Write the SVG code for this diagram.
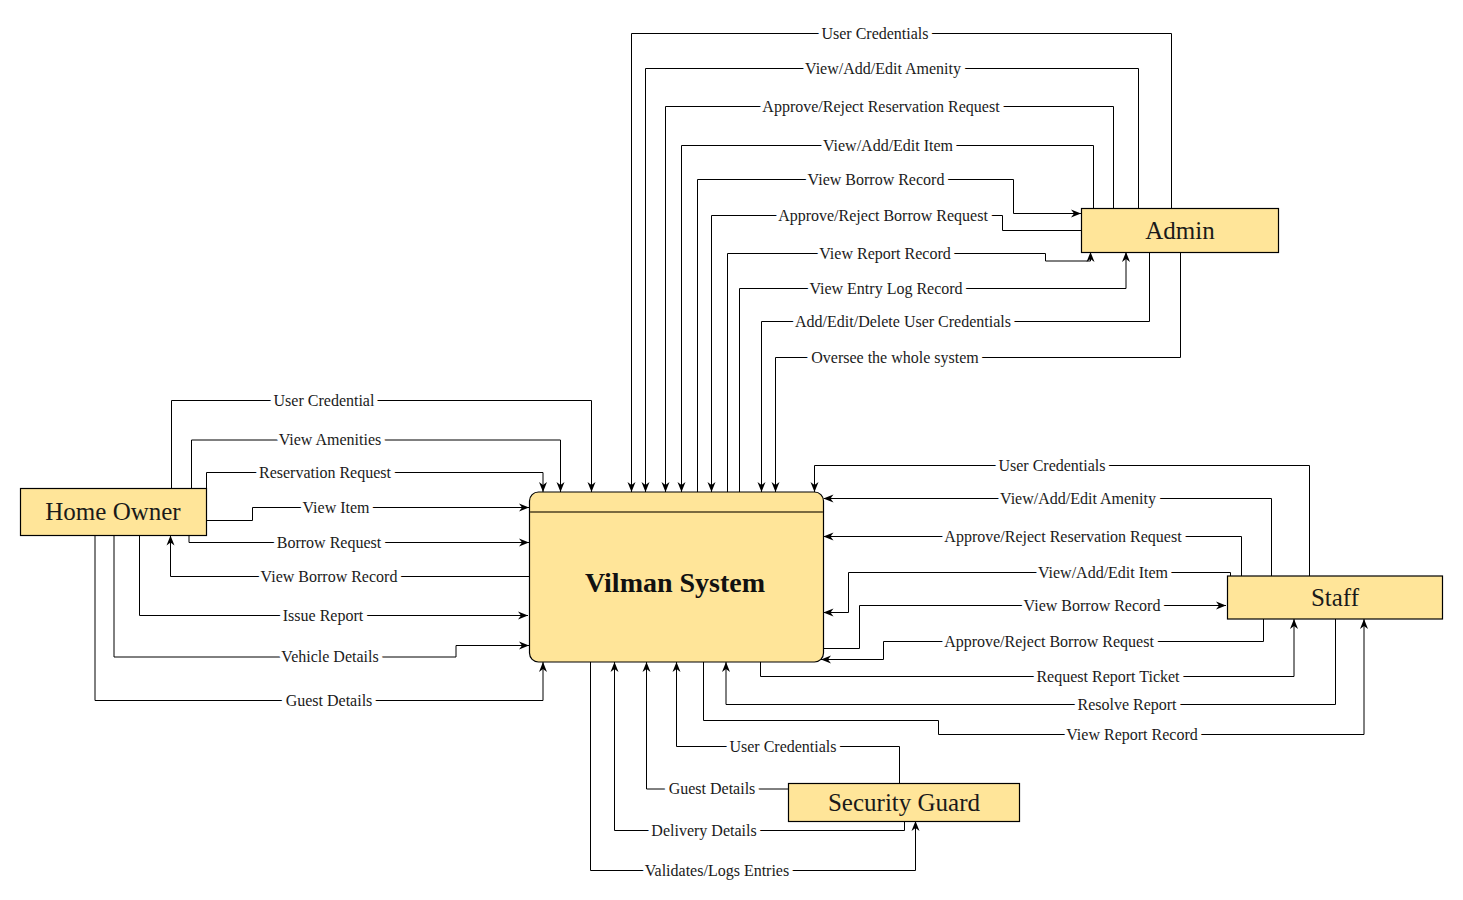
<svg xmlns="http://www.w3.org/2000/svg" width="1463" height="900" viewBox="0 0 1463 900">
<style>
.c{fill:none;stroke:#000;stroke-width:1;marker-end:url(#ah)}
.l{font-family:"Liberation Serif","Times New Roman",serif;font-size:16px;fill:#1a1a1a;text-anchor:middle;stroke:#fff;stroke-width:9;stroke-linejoin:round;paint-order:stroke}
.box{fill:#FFE599;stroke:#000;stroke-width:1.2}
.t{font-family:"Liberation Serif","Times New Roman",serif;font-size:25px;fill:#1a1a1a;text-anchor:middle}
.tb{font-family:"Liberation Serif","Times New Roman",serif;font-size:28px;font-weight:bold;fill:#111;text-anchor:middle}
</style>
<defs>
<marker id="ah" viewBox="0 0 10 10" refX="10" refY="5" markerWidth="10" markerHeight="10" markerUnits="userSpaceOnUse" orient="auto">
<path d="M0,1 L10,5 L0,9 L3,5 z" fill="#000"/>
</marker>
</defs>
<rect width="1463" height="900" fill="#fff"/>
<g id="connectors">
<path class="c" d="M1171.5,208 V33.5 H631.5 V492"/>
<path class="c" d="M1138.5,208 V68.5 H645.5 V492"/>
<path class="c" d="M1113.5,208 V106.5 H665.5 V492"/>
<path class="c" d="M1093.5,208 V145.5 H681.5 V492"/>
<path class="c" d="M697.5,492 V179.5 H1013.5 V213.5 H1081"/>
<path class="c" d="M1081,230.5 H1002.5 V215.5 H711.5 V492"/>
<path class="c" d="M727.5,492 V253.5 H1045.5 V261 H1090.5 V252"/>
<path class="c" d="M739.5,492 V288.5 H1126 V252"/>
<path class="c" d="M1149.5,252 V321.5 H761.5 V492"/>
<path class="c" d="M1180.5,252 V357.5 H775.5 V492"/>
<path class="c" d="M171.5,488.5 V400.5 H591.5 V492"/>
<path class="c" d="M191.5,488.5 V440 H560.5 V492"/>
<path class="c" d="M206.5,500 V472.5 H543 V492"/>
<path class="c" d="M206.5,520.5 H252.5 V507.5 H529"/>
<path class="c" d="M189,535.5 V542.5 H529"/>
<path class="c" d="M529,576.5 H170.5 V535.5"/>
<path class="c" d="M139.5,535.5 V615.5 H528"/>
<path class="c" d="M114,535.5 V657 H456 V645.5 H529"/>
<path class="c" d="M95,535.5 V700.5 H543 V662"/>
<path class="c" d="M1309.5,576 V465.5 H814.5 V492"/>
<path class="c" d="M1271.5,576 V498.5 H823.5"/>
<path class="c" d="M1241.5,576 V536.5 H823.5"/>
<path class="c" d="M1230.5,576 V572.5 H848.5 V612.5 H823.5"/>
<path class="c" d="M823.5,648.5 H859.5 V605.5 H1226"/>
<path class="c" d="M1263.5,619 V641.5 H883.5 V659.5 H821"/>
<path class="c" d="M760.5,662 V676.5 H1294 V619"/>
<path class="c" d="M1335.5,619 V704.5 H726 V662"/>
<path class="c" d="M703.5,662 V720.5 H938.5 V734.5 H1364 V619"/>
<path class="c" d="M899.5,783.5 V746.5 H676.5 V662"/>
<path class="c" d="M788.5,789 H646.5 V662"/>
<path class="c" d="M904.5,821 V830.5 H614.5 V662"/>
<path class="c" d="M590.5,662 V870.5 H915.5 V821"/>
</g>
<g id="labels">
<text class="l" x="875" y="38.5">User Credentials</text>
<text class="l" x="883" y="73.5">View/Add/Edit Amenity</text>
<text class="l" x="881" y="111.5">Approve/Reject Reservation Request</text>
<text class="l" x="888" y="150.5">View/Add/Edit Item</text>
<text class="l" x="876" y="184.5">View Borrow Record</text>
<text class="l" x="883" y="220.5">Approve/Reject Borrow Request</text>
<text class="l" x="885" y="258.5">View Report Record</text>
<text class="l" x="886" y="293.5">View Entry Log Record</text>
<text class="l" x="903" y="326.5">Add/Edit/Delete User Credentials</text>
<text class="l" x="895" y="362.5">Oversee the whole system</text>
<text class="l" x="324" y="405.5">User Credential</text>
<text class="l" x="330" y="445">View Amenities</text>
<text class="l" x="325" y="477.5">Reservation Request</text>
<text class="l" x="336" y="512.5">View Item</text>
<text class="l" x="329" y="547.5">Borrow Request</text>
<text class="l" x="329" y="581.5">View Borrow Record</text>
<text class="l" x="323" y="620.5">Issue Report</text>
<text class="l" x="330" y="662">Vehicle Details</text>
<text class="l" x="329" y="705.5">Guest Details</text>
<text class="l" x="1052" y="470.5">User Credentials</text>
<text class="l" x="1078" y="503.5">View/Add/Edit Amenity</text>
<text class="l" x="1063" y="541.5">Approve/Reject Reservation Request</text>
<text class="l" x="1103" y="577.5">View/Add/Edit Item</text>
<text class="l" x="1092" y="610.5">View Borrow Record</text>
<text class="l" x="1049" y="646.5">Approve/Reject Borrow Request</text>
<text class="l" x="1108" y="681.5">Request Report Ticket</text>
<text class="l" x="1127" y="709.5">Resolve Report</text>
<text class="l" x="1132" y="739.5">View Report Record</text>
<text class="l" x="783" y="751.5">User Credentials</text>
<text class="l" x="712" y="793.5">Guest Details</text>
<text class="l" x="704" y="835.5">Delivery Details</text>
<text class="l" x="717" y="875.5">Validates/Logs Entries</text>
</g>
<g id="vilman-system">
<rect class="box" x="529.5" y="492" width="294" height="170" rx="9"/>
<line x1="530" y1="512" x2="823" y2="512" stroke="#7a6a40" stroke-width="2"/>
<text class="tb" x="675" y="592">Vilman System</text>
</g>
<g id="admin">
<rect class="box" x="1081.5" y="208.5" width="197" height="44"/>
<text class="t" x="1180" y="239">Admin</text>
</g>
<g id="home-owner">
<rect class="box" x="20.5" y="488.5" width="186" height="47"/>
<text class="t" x="113" y="520">Home Owner</text>
</g>
<g id="staff">
<rect class="box" x="1227.5" y="576" width="215" height="43"/>
<text class="t" x="1335" y="606">Staff</text>
</g>
<g id="security-guard">
<rect class="box" x="788.5" y="783.5" width="231" height="38"/>
<text class="t" x="904" y="811">Security Guard</text>
</g>
</svg>
